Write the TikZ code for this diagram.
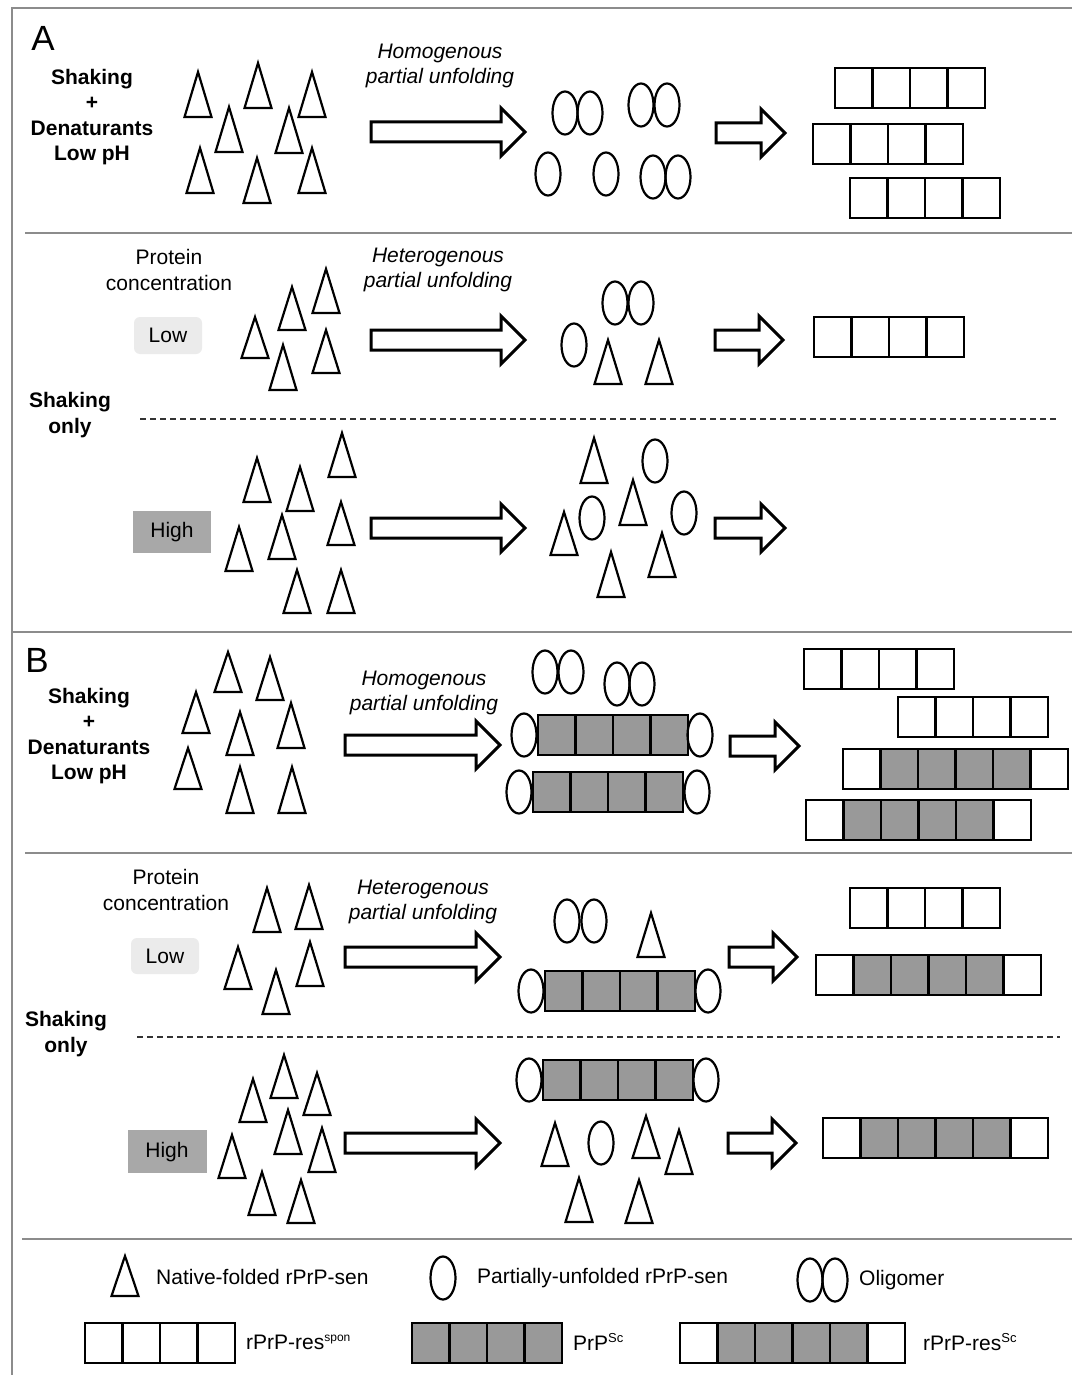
\documentclass[tikz,border=0pt]{standalone}
\usepackage{fontspec}
\setmainfont{Liberation Sans}
\definecolor{cellgray}{gray}{0.6}
\definecolor{highgray}{gray}{0.66}
\definecolor{lowhalo}{gray}{0.92}
\definecolor{rulegray}{gray}{0.55}

% native-folded protein: centre x, apex y, base y
\newcommand\Tri[3]{\draw[shapeline] ({#1-13.5},#3) -- (#1,#2) -- ({#1+13.5},#3) -- cycle;}
% partially unfolded protein: centre
\newcommand\Ell[2]{\draw[shapeline] (#1,#2) ellipse [x radius=12.5, y radius=21.5];}
% oligomer: two touching ellipses
\newcommand\Olig[3]{\Ell{#1}{#3}\Ell{#2}{#3}}
% fibril of square units: left x, top y, list of fills
\newcommand\Cells[3]{\foreach \c [count=\i from 0] in {#3}{\draw[cellline, fill=\c] ({#1+37.5*\i},#2) rectangle ++(37.5,40);}}
% hollow block arrow: start x, tip x, centre y
\newcommand\Arrow[3]{\draw[fatarrow] (#1,{#3-10}) -- ({#2-24},{#3-10}) -- ({#2-24},{#3-24}) -- (#2,#3) -- ({#2-24},{#3+24}) -- ({#2-24},{#3+10}) -- (#1,{#3+10}) -- cycle;}

\begin{document}
\begin{tikzpicture}[x=1pt, y=-1pt,
  shapeline/.style={line width=2.2pt, draw=black, line join=miter},
  cellline/.style={line width=2.2pt, draw=black},
  fatarrow/.style={line width=3pt, draw=black, fill=white, line join=miter},
  frameline/.style={line width=1.2pt, draw=rulegray},
  dashline/.style={line width=1.8pt, draw=black!80, dash pattern=on 6pt off 4pt},
  txt/.style={font=\fontsize{21}{25.5}\selectfont, inner sep=0pt, align=center},
  boldtxt/.style={txt, font=\fontsize{21}{25.5}\selectfont\bfseries},
  ittxt/.style={txt, font=\fontsize{21}{25}\selectfont\itshape},
  paneltag/.style={inner sep=0pt, font=\fontsize{35}{35}\selectfont},
  legtxt/.style={font=\fontsize{21}{24}\selectfont, inner sep=0pt, anchor=west}]

\useasboundingbox (0,0) rectangle (1076,1375);
\fill[white] (0,0) rectangle (1076,1375);

% ---------- frame and separators ----------
\draw[frameline] (12,1375) -- (12,8) -- (1072,8);
\draw[frameline] (25,233) -- (1072,233);
\draw[frameline] (12,632) -- (1072,632);
\draw[frameline] (25,853) -- (1072,853);
\draw[frameline] (22,1239) -- (1072,1239);
\draw[dashline] (140,419) -- (1058,419);
\draw[dashline] (137,1037) -- (1060,1037);

% ================= Panel A =================
\node[paneltag] (tagA) at (43,38) {A};
\node[boldtxt] (condA) at (92,117) {Shaking\\+\\Denaturants\\Low pH};

% row 1: shaking + denaturants
\Tri{198}{72}{117}\Tri{258}{63}{108}\Tri{312}{72}{117}
\Tri{229}{107}{152}\Tri{289}{108}{153}
\Tri{200}{148}{193}\Tri{257}{158}{203}\Tri{312}{148}{193}
\node[ittxt] (homA) at (440,66) {Homogenous\\partial unfolding};
\Arrow{371}{525}{132}
\Olig{565}{590}{113}\Olig{641}{667}{105}
\Ell{548}{174}\Ell{606}{174}
\Olig{653}{678}{177}
\Arrow{716}{785}{133}
\Cells{835}{68}{white,white,white,white}
\Cells{813}{124}{white,white,white,white}
\Cells{850}{178}{white,white,white,white}

% row 2: shaking only, low concentration
\node[txt] (protA) at (169,270) {Protein\\concentration};
\fill[lowhalo, rounded corners=6pt] (134,317) rectangle (202,354);
\node[txt] (lowA) at (168,335) {Low};
\Tri{255}{317}{358}\Tri{292}{287}{330}\Tri{326}{269}{313}
\Tri{283}{345}{390}\Tri{326}{330}{373}
\node[ittxt] (hetA) at (438,270) {Heterogenous\\partial unfolding};
\Arrow{371}{525}{340}
\Olig{615}{641}{303}\Ell{574}{345}
\Tri{608}{340}{384}\Tri{659}{340}{384}
\Arrow{715}{783}{340}
\Cells{814}{317}{white,white,white,white}

\node[boldtxt] (shakeA) at (70,415) {Shaking\\only};

% row 3: shaking only, high concentration
\fill[highgray] (133,511) rectangle (211,553);
\node[txt] (highA) at (172,532) {High};
\Tri{257}{458}{502}\Tri{300}{467}{511}\Tri{342}{433}{477}
\Tri{239}{527}{571}\Tri{282}{515}{559}\Tri{341}{502}{545}
\Tri{297}{570}{613}\Tri{341}{570}{613}
\Arrow{371}{525}{528}
\Tri{594}{438}{483}\Ell{655}{461}
\Ell{592}{518}\Tri{633}{480}{525}\Ell{684}{513}
\Tri{564}{512}{555}\Tri{662}{533}{577}\Tri{611}{552}{597}
\Arrow{715}{785}{528}

% ================= Panel B =================
\node[paneltag] (tagB) at (37,660) {B};
\node[boldtxt] (condB) at (89,736) {Shaking\\+\\Denaturants\\Low pH};

% row 1
\Tri{228}{652}{692}\Tri{270}{657}{700}
\Tri{196}{692}{733}\Tri{240}{712}{755}\Tri{291}{703}{748}
\Tri{188}{748}{789}\Tri{240}{767}{813}\Tri{292}{767}{813}
\node[ittxt] (homB) at (424,693) {Homogenous\\partial unfolding};
\Arrow{345}{500}{745}
\Olig{545}{571}{672}\Olig{617}{642}{684}
\Ell{524}{735}\Cells{538}{715}{cellgray,cellgray,cellgray,cellgray}\Ell{700}{735}
\Ell{519}{792}\Cells{533}{772}{cellgray,cellgray,cellgray,cellgray}\Ell{697}{792}
\Arrow{730}{799}{746}
\Cells{804}{649}{white,white,white,white}
\Cells{898}{697}{white,white,white,white}
\Cells{843}{749}{white,cellgray,cellgray,cellgray,cellgray,white}
\Cells{806}{800}{white,cellgray,cellgray,cellgray,cellgray,white}

% row 2: low concentration
\node[txt] (protB) at (166,890) {Protein\\concentration};
\fill[lowhalo, rounded corners=6pt] (131,938) rectangle (199,974);
\node[txt] (lowB) at (165,956) {Low};
\Tri{267}{888}{932}\Tri{309}{885}{929}
\Tri{238}{947}{989}\Tri{310}{942}{986}\Tri{276}{970}{1014}
\node[ittxt] (hetB) at (423,902) {Heterogenous\\partial unfolding};
\Arrow{345}{500}{957}
\Olig{567}{594}{921}\Tri{651}{913}{957}
\Ell{531}{991}\Cells{545}{971}{cellgray,cellgray,cellgray,cellgray}\Ell{708}{991}
\Arrow{729}{797}{957}
\Cells{850}{888}{white,white,white,white}
\Cells{816}{955}{white,cellgray,cellgray,cellgray,cellgray,white}

\node[boldtxt] (shakeB) at (66,1034) {Shaking\\only};

% row 3: high concentration
\fill[highgray] (128,1130) rectangle (207,1173);
\node[txt] (highB) at (167,1152) {High};
\Tri{284}{1055}{1098}\Tri{253}{1079}{1122}\Tri{317}{1073}{1115}
\Tri{288}{1110}{1154}\Tri{232}{1135}{1178}\Tri{322}{1128}{1172}
\Tri{262}{1172}{1215}\Tri{301}{1180}{1223}
\Arrow{345}{500}{1143}
\Ell{529}{1080}\Cells{543}{1060}{cellgray,cellgray,cellgray,cellgray}\Ell{706}{1080}
\Tri{555}{1123}{1166}\Ell{601}{1143}\Tri{646}{1116}{1158}\Tri{679}{1130}{1174}
\Tri{579}{1178}{1222}\Tri{639}{1180}{1223}
\Arrow{728}{796}{1143}
\Cells{823}{1118}{white,cellgray,cellgray,cellgray,cellgray,white}

% ================= Legend =================
\Tri{125}{1256}{1296}
\node[legtxt] (legNative) at (156,1277) {Native-folded rPrP-sen};
\Ell{443}{1278}
\node[legtxt] (legPartial) at (477,1278) {Partially-unfolded rPrP-sen};
\Olig{810}{835}{1280}
\node[legtxt] (legOlig) at (859,1280) {Oligomer};
\Cells{85}{1323}{white,white,white,white}
\node[legtxt] (legSpon) at (246,1342) {rPrP-res\textsuperscript{\fontsize{12}{12}\selectfont spon}};
\Cells{412}{1323}{cellgray,cellgray,cellgray,cellgray}
\node[legtxt] (legSc) at (573,1342) {PrP\textsuperscript{\fontsize{13}{13}\selectfont Sc}};
\Cells{680}{1323}{white,cellgray,cellgray,cellgray,cellgray,white}
\node[legtxt] (legResSc) at (923,1342) {rPrP-res\textsuperscript{\fontsize{13}{13}\selectfont Sc}};
\end{tikzpicture}
\end{document}
